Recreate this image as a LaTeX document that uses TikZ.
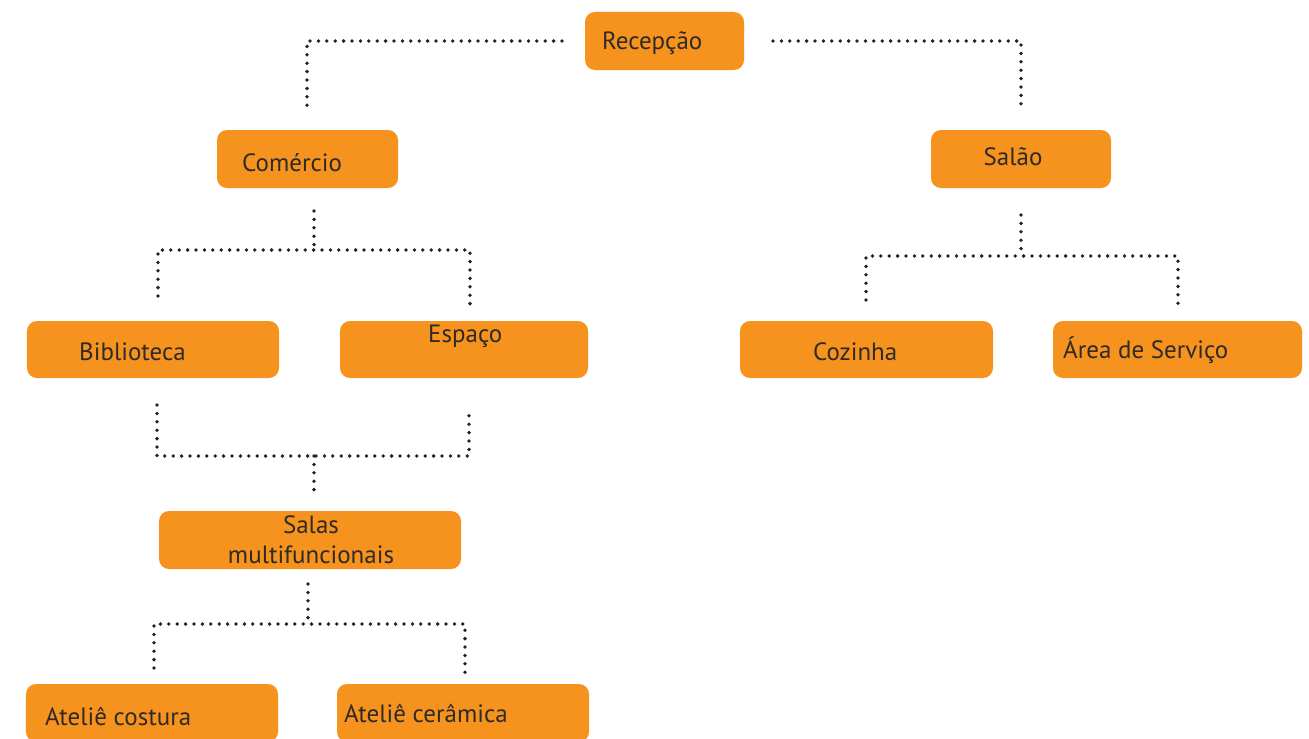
\documentclass[tikz,border=0pt]{standalone}
\usepackage{fontspec}
\setmainfont{PT Sans}
\definecolor{boxor}{HTML}{F6931F}
\definecolor{txtc}{HTML}{2E2A26}
\definecolor{dotc}{HTML}{222222}
\begin{document}
\begin{tikzpicture}[x=1bp,y=-1bp,
  box/.style={draw=none,fill=boxor,rounded corners=10bp,minimum height=58bp,inner sep=0pt},
  txt/.style={text=txtc,font=\fontsize{25bp}{30bp}\selectfont,inner sep=0pt},
  dots/.style={draw=dotc,line width=3.8bp,line cap=round,dash pattern=on 0pt off 8.4bp}]
\useasboundingbox (0,0) rectangle (1309,738);
% boxes
\node[box,minimum width=159bp] (rec) at (664.5,41) {};
\node[box,minimum width=181bp] (com) at (307.5,159) {};
\node[box,minimum width=180bp] (sal) at (1021,159) {};
\node[box,minimum width=252bp,minimum height=57bp] (bib) at (153,349.5) {};
\node[box,minimum width=248bp,minimum height=57bp] (esp) at (464,349.5) {};
\node[box,minimum width=253bp,minimum height=57bp] (coz) at (866.5,349.5) {};
\node[box,minimum width=249bp,minimum height=57bp] (area) at (1177.5,349.5) {};
\node[box,minimum width=302bp] (salas) at (310,540) {};
\node[box,minimum width=252bp] (atc) at (152,713) {};
\node[box,minimum width=252bp] (atr) at (463,713) {};
% texts
\node[txt,anchor=base west] (trec) at (602,50) {Recepção};
\node[txt,anchor=base west] (tcom) at (242,171) {Comércio};
\node[txt,anchor=base] (tsal) at (1013,165) {Salão};
\node[txt,anchor=base west] (tbib) at (79,360) {Biblioteca};
\node[txt,anchor=base west] (tesp) at (428,342) {Espaço};
\node[txt,anchor=base west] (tcoz) at (813,360) {Cozinha};
\node[txt,anchor=base west] (tarea) at (1063,358) {Área de Serviço};
\node[txt,anchor=base] (tsalas1) at (311,533) {Salas};
\node[txt,anchor=base] (tsalas2) at (311,563) {multifuncionais};
\node[txt,anchor=base west] (tatc) at (45,725) {Ateliê costura};
\node[txt,anchor=base west] (tatr) at (344,722) {Ateliê cerâmica};
% connector end points
\coordinate (rl) at (562,41);
\coordinate (rr) at (773,41);
\coordinate (comtop) at (307,110);
\coordinate (saltop) at (1021,110);
\coordinate (combot) at (314,211);
\coordinate (comj) at (314,250);
\coordinate (bibtop) at (158,296);
\coordinate (esptop) at (470,305);
\coordinate (salbot) at (1021,215);
\coordinate (salj) at (1021,256);
\coordinate (coztop) at (866,300);
\coordinate (areatop) at (1178,311);
\coordinate (bibbot) at (157,405);
\coordinate (espbot) at (469,412);
\coordinate (mj) at (314,456);
\coordinate (salastop) at (314,498);
\coordinate (salasbot) at (308,584);
\coordinate (salasj) at (308,624);
\coordinate (atctop) at (154,668);
\coordinate (atrtop) at (465,678);
% connectors
\draw[dots] (rl) -| (comtop);
\draw[dots] (rr) -| (saltop);
\draw[dots] (combot) -- (comj);
\draw[dots] (bibtop) |- (comj) -| (esptop);
\draw[dots] (salbot) -- (salj);
\draw[dots] (coztop) |- (salj) -| (areatop);
\draw[dots] (bibbot) |- (mj) -| (espbot);
\draw[dots] (mj) -- (salastop);
\draw[dots] (salasbot) -- (salasj);
\draw[dots] (atctop) |- (salasj) -| (atrtop);
\end{tikzpicture}
\end{document}
